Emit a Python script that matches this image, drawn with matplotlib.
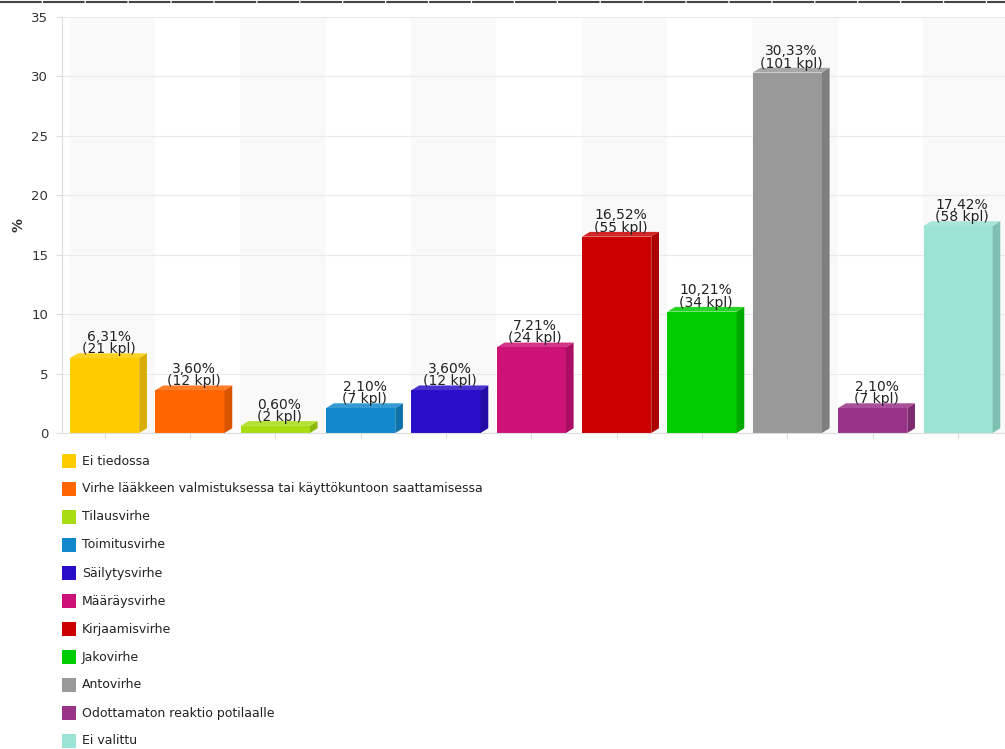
import matplotlib.pyplot as plt
from matplotlib.patches import Polygon, Rectangle
from matplotlib.lines import Line2D

# Luokat, prosentit ja kappalemäärät
categories = ['Ei tiedossa',
              'Virhe lääkkeen valmistuksessa tai käyttökuntoon saattamisessa',
              'Tilausvirhe', 'Toimitusvirhe', 'Säilytysvirhe', 'Määräysvirhe',
              'Kirjaamisvirhe', 'Jakovirhe', 'Antovirhe',
              'Odottamaton reaktio potilaalle', 'Ei valittu']
percents = [6.31, 3.60, 0.60, 2.10, 3.60, 7.21, 16.52, 10.21, 30.33, 2.10, 17.42]
counts = [21, 12, 2, 7, 12, 24, 55, 34, 101, 7, 58]
colors = ['#FFCC00', '#FF6600', '#AADD11', '#1188CC', '#2A0FC8', '#CC1177',
          '#CC0000', '#00CC00', '#999999', '#993388', '#9BE3D5']
side_colors = ['#D9AD00', '#D95500', '#8DB80E', '#0E71AA', '#220CA6', '#AA0E63',
               '#AA0000', '#00AA00', '#7F7F7F', '#7F2A70', '#7FBFB2']
yticks = [0, 5, 10, 15, 20, 25, 30, 35]

W, H = 1005, 749
fig = plt.figure(figsize=(W / 100, H / 100), dpi=100)
ax = fig.add_axes([62 / W, 1 - 433 / H, (W - 62) / W, (433 - 17) / H])

n = len(categories)
bar_w = 0.81
dx = 0.09    # 3D-syvyys x-suunnassa (kategoria-yksikköä)
dy = 0.40    # 3D-syvyys y-suunnassa (prosenttiyksikköä)

# Vuorottelevat taustakaistat
for i in range(n):
    if i % 2 == 0:
        ax.axvspan(i - 0.5 + dx, i + 0.5 + dx, color='#F9F9F9', zorder=0, lw=0)

for y in yticks:
    ax.axhline(y, color='#EAEAEA', lw=0.8, zorder=0.5)

for i, (p, c, fc, sc) in enumerate(zip(percents, counts, colors, side_colors)):
    x0 = i - bar_w / 2
    x1 = i + bar_w / 2
    ax.bar(i, p, width=bar_w, color=fc, zorder=2, lw=0)
    # sivu
    ax.add_patch(Polygon([(x1, 0), (x1 + dx, dy), (x1 + dx, p + dy), (x1, p)],
                         closed=True, color=sc, lw=0, zorder=2))
    # kansi
    ax.add_patch(Polygon([(x0, p), (x0 + dx, p + dy), (x1 + dx, p + dy), (x1, p)],
                         closed=True, color=fc, lw=0, zorder=2, alpha=0.85))
    ax.text(i + dx / 2, p + dy * 0.4, f"{p:.2f}%".replace('.', ',') + f"\n({c} kpl)",
            ha='center', va='bottom', fontsize=10, color='#222222',
            linespacing=0.85, zorder=3)

ax.set_xlim(-0.5, 10.55)
ax.set_ylim(0, 35)
ax.set_yticks(yticks)
ax.set_xticks(range(n))
ax.set_xticklabels([])
ax.tick_params(axis='y', length=4, color='#DDDDDD', labelsize=9.5, labelcolor='#333333', pad=6)
ax.tick_params(axis='x', length=4, color='#DDDDDD', direction='out')
for s in ['top', 'right']:
    ax.spines[s].set_visible(False)
ax.spines['left'].set_color('#DDDDDD')
ax.spines['bottom'].set_color('#DDDDDD')
ax.set_facecolor('white')

fig.text(18 / W, 1 - 225 / H, '%', rotation=90, ha='center', va='center',
         fontsize=10, fontweight='bold', color='#333333')

# Selite
for k, (lab, fc) in enumerate(zip(categories, colors)):
    yc = 461 + 28 * k
    fig.add_artist(Rectangle((62 / W, 1 - (yc + 7) / H), 14 / W, 14 / H,
                             transform=fig.transFigure, color=fc, lw=0))
    fig.text(82 / W, 1 - yc / H, lab, ha='left', va='center',
             fontsize=9, color='#222222')

# Tumma katkoviiva ylhäällä
fig.add_artist(Line2D([0, 1], [1 - 2 / H, 1 - 2 / H], transform=fig.transFigure,
                      color='#444444', lw=1.5, linestyle=(0, (20, 0.6))))

fig.savefig('out.png', dpi=100)
